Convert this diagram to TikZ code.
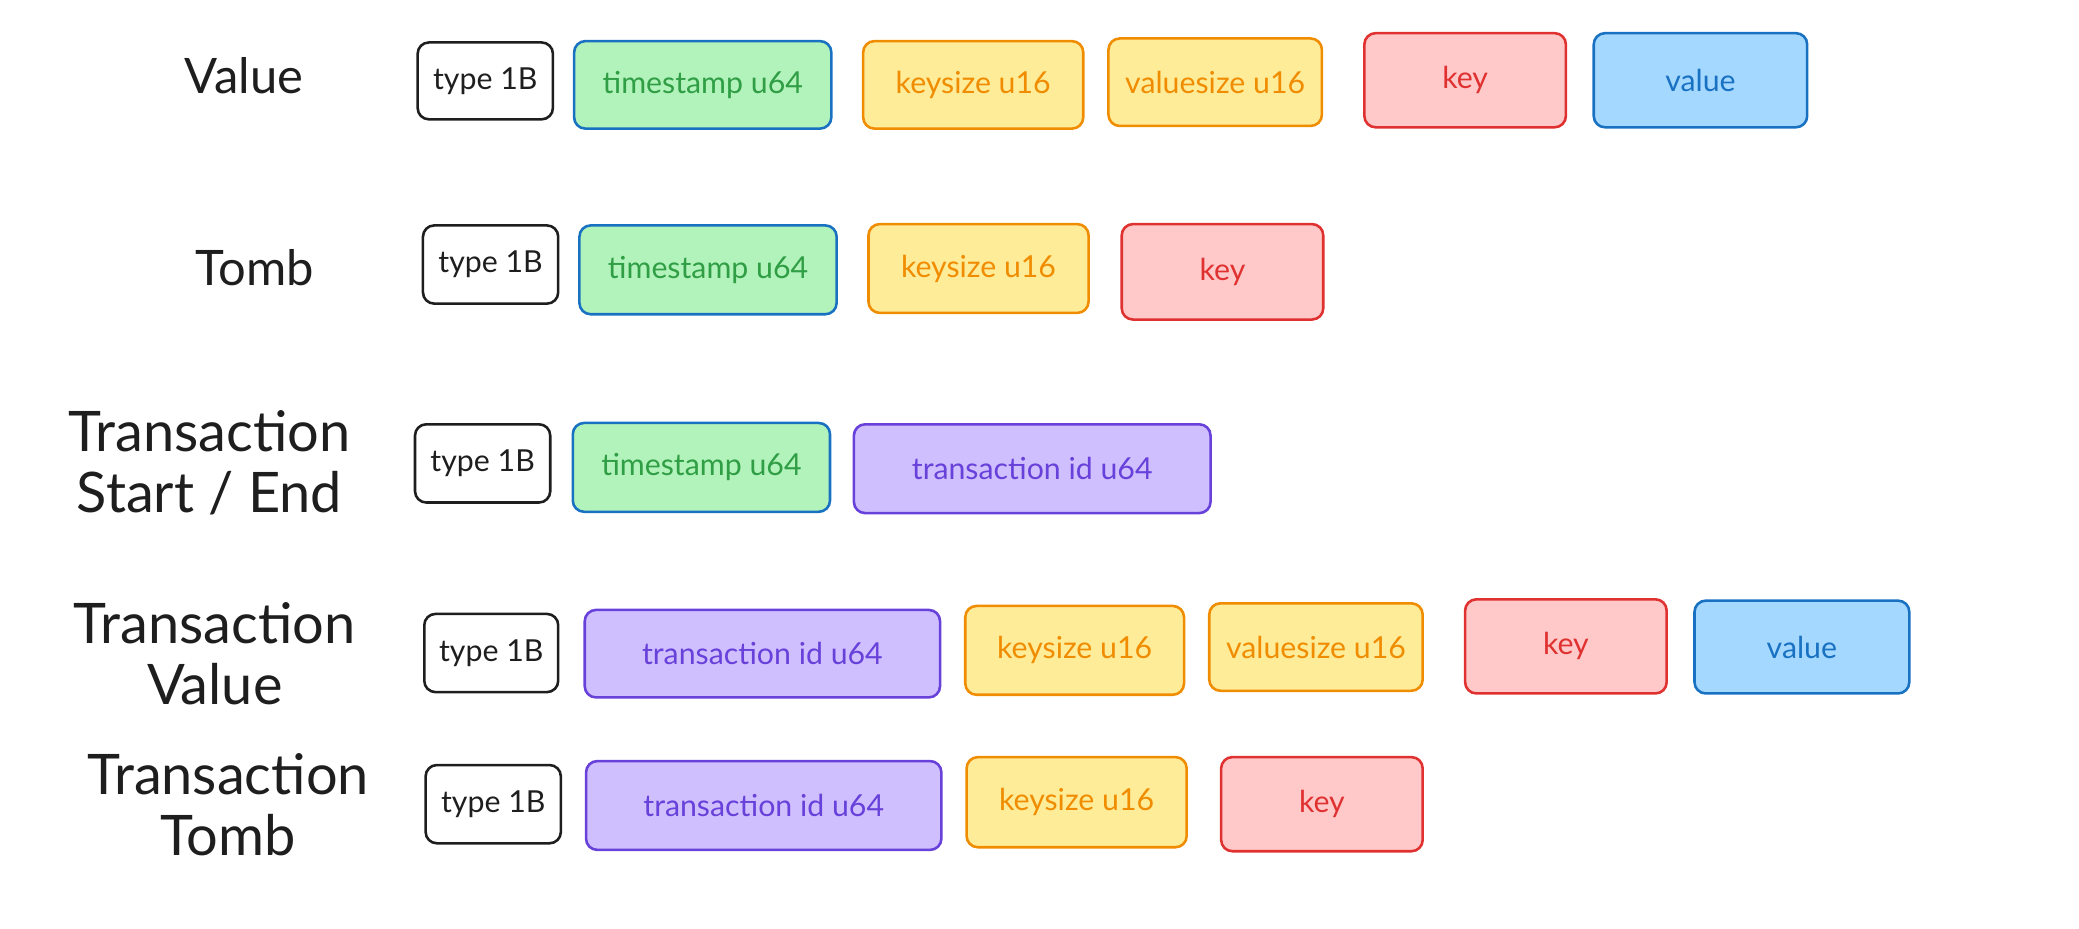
\documentclass[tikz,border=0pt]{standalone}
\usepackage{fontspec}
\setmainfont{Lato}
\definecolor{ink}{HTML}{1E1E1E}
\definecolor{grfill}{HTML}{B2F2BB}
\definecolor{grtext}{HTML}{2F9E44}
\definecolor{blstroke}{HTML}{1971C2}
\definecolor{blfill}{HTML}{A5D8FF}
\definecolor{yefill}{HTML}{FFEC99}
\definecolor{yestroke}{HTML}{F08C00}
\definecolor{refill}{HTML}{FFC9C9}
\definecolor{restroke}{HTML}{E03131}
\definecolor{vifill}{HTML}{D0BFFF}
\definecolor{vistroke}{HTML}{6741D9}
\tikzset{
  field/.style={draw, rounded corners=0.17cm, line width=1.1pt, inner sep=0pt,
    font=\fontsize{13}{15}\selectfont},
  typebox/.style={field, draw=ink, fill=white, text=ink},
  greenbox/.style={field, draw=blstroke, fill=grfill, text=grtext},
  yellowbox/.style={field, draw=yestroke, fill=yefill, text=yestroke},
  redbox/.style={field, draw=restroke, fill=refill, text=restroke},
  bluebox/.style={field, draw=blstroke, fill=blfill, text=blstroke},
  violetbox/.style={field, draw=vistroke, fill=vifill, text=vistroke},
  rowlabel/.style={align=center, text=ink, font=\fontsize{21}{26}\selectfont},
  rowlabeltwo/.style={align=center, text=ink, font=\fontsize{24}{26}\selectfont},
}
\newcommand{\fld}[7]{\node[#1, minimum width=#5*0.02cm, minimum height=#6*0.02cm] (#2) at (#3,#4) {#7};}
\begin{document}
\begin{tikzpicture}[x=0.02cm, y=-0.02cm]
\path[use as bounding box] (0,0) rectangle (1568,700);
% Row 1: Value
\node[rowlabel] (lval) at (184,57) {Value};
\fld{typebox}{vtype}{366}{61}{102}{58}{type 1B}
\fld{greenbox}{vts}{530}{64}{194}{66}{timestamp u64}
\fld{yellowbox}{vks}{734}{64}{166}{66}{keysize u16}
\fld{yellowbox}{vvs}{916.5}{62}{161}{66}{valuesize u16}
\fld{redbox}{vkey}{1105}{60.5}{152}{71}{key}
\fld{bluebox}{vval}{1282.5}{60.5}{161}{71}{value}
% Row 2: Tomb
\node[rowlabel] (ltomb) at (192,202) {Tomb};
\fld{typebox}{ttype}{370}{199.5}{102}{59}{type 1B}
\fld{greenbox}{tts}{534}{203.5}{194}{67}{timestamp u64}
\fld{yellowbox}{tks}{738}{202.5}{166}{67}{keysize u16}
\fld{redbox}{tkey}{922}{205}{152}{72}{key}
% Row 3: Transaction Start / End
\node[rowlabeltwo] (lse) at (158,349) {Transaction\\Start / End};
\fld{typebox}{stype}{364}{349.5}{102}{59}{type 1B}
\fld{greenbox}{sts}{529}{352.5}{194}{67}{timestamp u64}
\fld{violetbox}{stid}{778.5}{353.5}{269}{67}{transaction id u64}
% Row 4: Transaction Value
\node[rowlabeltwo] (ltv) at (162,493) {Transaction\\Value};
\fld{typebox}{tvtype}{370.5}{492.5}{101}{59}{type 1B}
\fld{violetbox}{tvtid}{575}{493}{268}{66}{transaction id u64}
\fld{yellowbox}{tvks}{810.5}{490.5}{165}{67}{keysize u16}
\fld{yellowbox}{tvvs}{992.5}{488}{161}{66}{valuesize u16}
\fld{redbox}{tvkey}{1181}{487.5}{152}{71}{key}
\fld{bluebox}{tvval}{1359}{488}{162}{70}{value}
% Row 5: Transaction Tomb
\node[rowlabeltwo] (ltt) at (172,607) {Transaction\\Tomb};
\fld{typebox}{tttype}{372}{606.5}{102}{59}{type 1B}
\fld{violetbox}{tttid}{576}{607.5}{268}{67}{transaction id u64}
\fld{yellowbox}{ttks}{812}{605}{166}{68}{keysize u16}
\fld{redbox}{ttkey}{997}{606.5}{152}{71}{key}
\end{tikzpicture}
\end{document}
